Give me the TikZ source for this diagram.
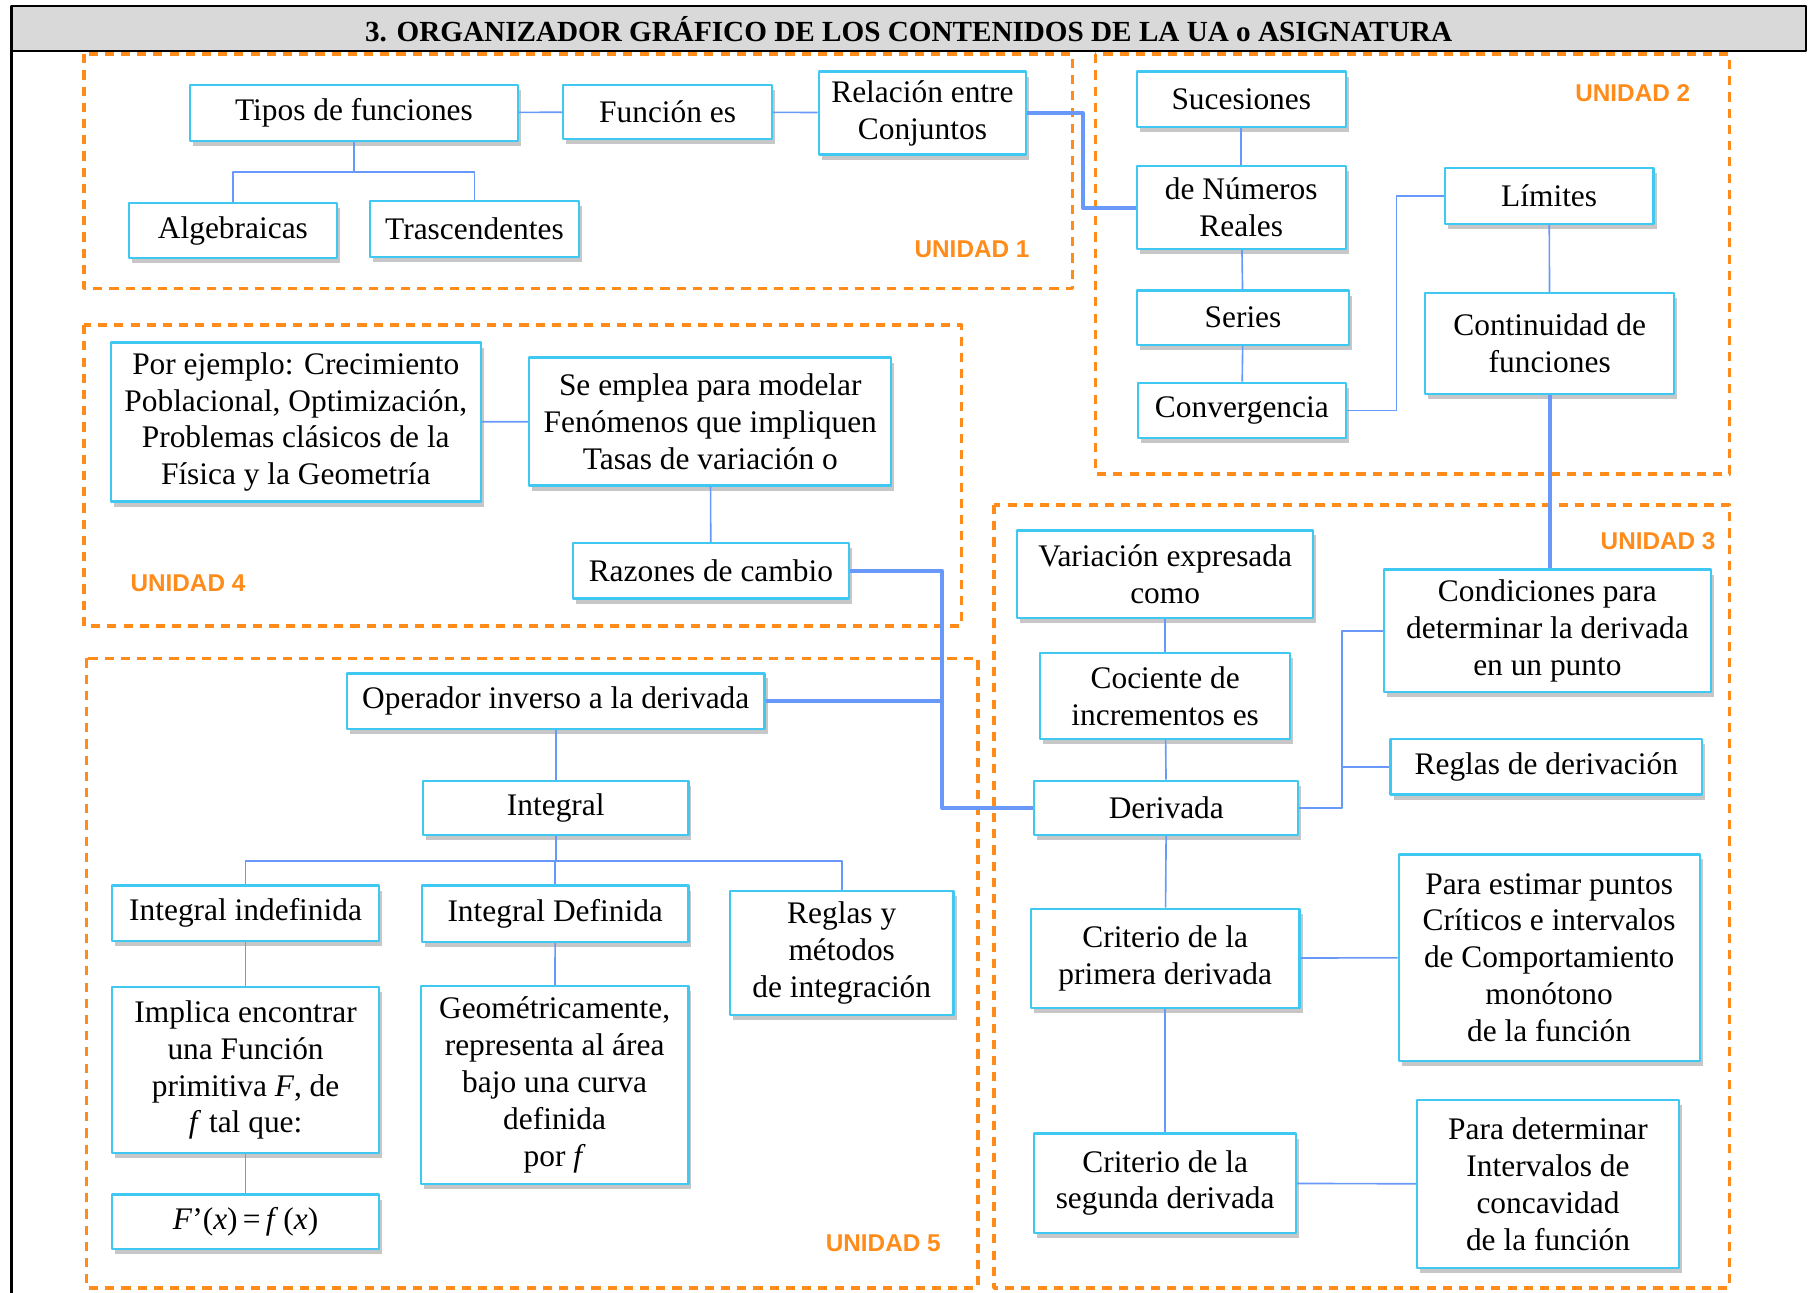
\documentclass[tikz,border=0pt]{standalone}
\usepackage{fontspec}
\setmainfont{Liberation Serif}
\newfontfamily\unifont{Liberation Sans}
\usetikzlibrary{shadows}
\definecolor{caja}{RGB}{62,200,242}
\definecolor{enlace}{RGB}{104,152,250}
\definecolor{naranja}{RGB}{255,140,26}
\definecolor{banda}{RGB}{217,217,217}
\begin{document}
\begin{tikzpicture}[x=0.02cm,y=-0.02cm,line join=round,font=\fontsize{15.5}{18.2}\selectfont]
	\tikzset{
		caja/.style 2 args={draw=caja,line width=1.1pt,fill=white,align=center,inner sep=1pt,
			minimum width=#1*0.02cm,minimum height=#2*0.02cm,
			drop shadow={shadow xshift=1.5pt,shadow yshift=-2.5pt,opacity=.22,fill=black}},
		fino/.style={draw=enlace,line width=0.8pt},
		grueso/.style={draw=enlace,line width=2pt},
		unidad/.style={draw=naranja,line width=1.7pt,dash pattern=on 4.5pt off 3.5pt},
		rotulo/.style={text=naranja,font=\unifont\bfseries\fontsize{12}{12}\selectfont},
	}
	\useasboundingbox (0,0) rectangle (1568,1121);
	% marco y titulo
	\draw[fill=banda,line width=1.1pt] (10,5) rectangle (1566,44);
	\draw[line width=1.1pt] (10,44)--(10,1121);
	\node[font=\bfseries\fontsize{14.4}{16}\selectfont] (titulo) at (788,25) {3. ORGANIZADOR GRÁFICO DE LOS CONTENIDOS DE LA UA o ASIGNATURA};
	% unidades
	\draw[unidad] (73,47) rectangle (930,250);
	\draw[unidad] (950,47) rectangle (1500,411);
	\draw[unidad] (73,282) rectangle (834,543);
	\draw[unidad] (862,438) rectangle (1500,1117);
	\draw[unidad] (75,571) rectangle (848,1117);
	\node[rotulo] (u1) at (843,216) {UNIDAD 1};
	\node[rotulo] (u2) at (1416,81) {UNIDAD 2};
	\node[rotulo] (u3) at (1438,469) {UNIDAD 3};
	\node[rotulo] (u4) at (163,506) {UNIDAD 4};
	\node[rotulo] (u5) at (766,1078) {UNIDAD 5};
	% unidad 1
	\node[caja={284}{48}] (tipos) at (307,98) {Tipos de funciones};
	\node[caja={181}{47}] (funcion) at (579,97) {Función es};
	\node[caja={180}{72}] (relacion) at (800,98) {Relación entre\\Conjuntos};
	\node[caja={180}{48}] (alg) at (202,200) {Algebraicas};
	\node[caja={181}{49}] (tras) at (411.5,198.5) {Trascendentes};
	% unidad 2
	\node[caja={181}{48}] (suc) at (1076.5,86) {Sucesiones};
	\node[caja={181}{72}] (reales) at (1076.5,180) {de Números\\Reales};
	\node[caja={184}{47}] (series) at (1078,275.5) {Series};
	\node[caja={180}{48}] (conv) at (1077,356) {Convergencia};
	\node[caja={181}{48}] (lim) at (1343.5,170) {Límites};
	\node[caja={216}{88}] (cont) at (1344,298) {Continuidad de\\funciones};
	% unidad 4
	\node[caja={321}{138}] (ejemplo) at (256.5,366) {Por ejemplo: Crecimiento\\Poblacional, Optimización,\\Problemas clásicos de la\\Física y la Geometría};
	\node[caja={314}{111}] (emplea) at (616,365.5) {Se emplea para modelar\\Fenómenos que impliquen\\Tasas de variación o};
	\node[caja={239}{48}] (razones) at (616.5,495) {Razones de cambio};
	% unidad 3
	\node[caja={257}{76}] (variacion) at (1010.5,498) {Variación expresada\\como};
	\node[caja={217}{75}] (cociente) at (1010.5,603.5) {Cociente de\\incrementos es};
	\node[caja={229}{47}] (derivada) at (1011.5,700.5) {Derivada};
	\node[caja={284}{106}] (condic) at (1342,547) {Condiciones para\\determinar la derivada\\en un punto};
	\node[caja={270}{48}] (reglasd) at (1341,665) {Reglas de derivación};
	\node[caja={233}{86}] (crit1) at (1010.5,831) {Criterio de la\\primera derivada};
	\node[caja={261}{179}] (estimar) at (1343.5,830.5) {Para estimar puntos\\Críticos e intervalos\\de Comportamiento\\monótono\\de la función};
	\node[caja={227}{86}] (crit2) at (1010.5,1026) {Criterio de la\\segunda derivada};
	\node[caja={227}{146}] (concav) at (1342.5,1027) {Para determinar\\Intervalos de\\concavidad\\de la función};
	% unidad 5
	\node[caja={362}{48}] (operador) at (482,608) {Operador inverso a la derivada};
	\node[caja={230}{47}] (integral) at (482,700.5) {Integral};
	\node[caja={232}{48}] (indef) at (213,792) {Integral indefinida};
	\node[caja={231}{49}] (defin) at (481.5,792.5) {Integral Definida};
	\node[caja={194}{107}] (reglasi) at (730,826.5) {Reglas y\\métodos\\de integración};
	\node[caja={232}{144}] (implica) at (213,928) {Implica encontrar\\una Función\\primitiva \textit{F}, de\\\textit{f} tal que:};
	\node[caja={232}{172}] (geom) at (481,941) {Geométricamente,\\representa al área\\bajo una curva\\definida\\por \textit{f}};
	\node[caja={232}{47}] (prim) at (213,1059.5) {\textit{F}’(\textit{x})\,=\,\textit{f}\,(\textit{x})};
	% conexiones
	\draw[fino] (tipos)--(funcion);
	\draw[fino] (funcion)--(relacion);
	\draw[fino] (tipos.south)--++(0,26)-|(alg.north);
	\draw[fino] (tipos.south)++(0,26)-|(tras.north);
	\draw[grueso] (relacion.east)--++(48,0)|-(reales.west);
	\draw[fino] (suc)--(reales);
	\draw[fino] (reales)--(series);
	\draw[fino] (series)--(conv);
	\draw[fino] (conv.east)--++(43,0)|-(lim.west);
	\draw[fino] (lim)--(cont);
	\draw[grueso] (cont.south)--(cont.south|-condic.north);
	\draw[fino] (ejemplo)--(emplea);
	\draw[fino] (emplea)--(razones);
	\path (razones.east)++(80,0) coordinate (bus);
	\draw[grueso] (razones.east)--(bus)|-(derivada.west);
	\draw[grueso] (operador.east)--(operador.east-|bus);
	\draw[fino] (variacion)--(cociente);
	\draw[fino] (cociente)--(derivada);
	\draw[fino] (derivada.east)--++(37,0)|-(condic.west);
	\draw[fino] (derivada.east)++(37,0)|-(reglasd.west);
	\draw[fino] (derivada)--(crit1);
	\draw[fino] (crit1)--(crit2);
	\draw[fino] (crit1)--(estimar);
	\draw[fino] (crit2)--(concav);
	\draw[fino] (operador)--(integral);
	\foreach \hijo in {indef,defin,reglasi}{
		\draw[fino] (integral.south)--++(0,22)-|(\hijo.north);
	}
	\draw[fino] (indef)--(implica);
	\draw[fino] (implica)--(prim);
	\draw[fino] (defin)--(geom);
\end{tikzpicture}
\end{document}
